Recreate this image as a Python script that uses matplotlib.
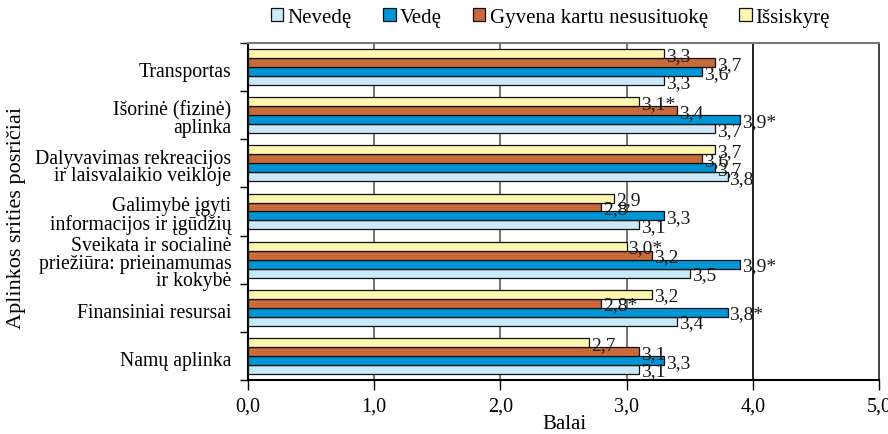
import matplotlib
matplotlib.use("Agg")
import matplotlib.pyplot as plt
from matplotlib.patches import Patch
import numpy as np

plt.rcParams['font.family'] = ['Liberation Serif', 'DejaVu Serif']

categories = [
    "Transportas",
    "Išorinė (fizinė)\naplinka",
    "Dalyvavimas rekreacijos\nir laisvalaikio veikloje",
    "Galimybė įgyti\ninformacijos ir įgūdžių",
    "Sveikata ir socialinė\npriežiūra: prieinamumas\nir kokybė",
    "Finansiniai resursai",
    "Namų aplinka",
]
series_names = ["Nevedę", "Vedę", "Gyvena kartu nesusituokę", "Išsiskyrę"]

nevede = [3.3, 3.7, 3.8, 3.1, 3.5, 3.4, 3.1]
vede = [3.6, 3.9, 3.7, 3.3, 3.9, 3.8, 3.3]
gyvena = [3.7, 3.4, 3.6, 2.8, 3.2, 2.8, 3.1]
issiskyre = [3.3, 3.1, 3.7, 2.9, 3.0, 3.2, 2.7]

# significance markers (*) per series and category
star_nevede = [False] * 7
star_vede = [False, True, False, False, True, True, False]
star_gyvena = [False, False, False, False, False, True, False]
star_issiskyre = [False, True, False, False, True, False, False]

x_ticks = [0, 1, 2, 3, 4, 5]
x_labels = ["0,0", "1,0", "2,0", "3,0", "4,0", "5,0"]

colors = ["#C8E9F8", "#0096D6", "#C96A3A", "#FFF6B0"]

fig = plt.figure(figsize=(8.88, 4.35), dpi=100)
ax = fig.add_axes([0.2793, 0.1241, 0.9899 - 0.2793, 0.8989 - 0.1241])

n = len(categories)
centers = np.arange(n)[::-1].astype(float)
h = 0.186

series = [nevede, vede, gyvena, issiskyre]
stars = [star_nevede, star_vede, star_gyvena, star_issiskyre]
offsets = [-1.5 * h, -0.5 * h, 0.5 * h, 1.5 * h]

for vals, st, col, off in zip(series, stars, colors, offsets):
    ys = centers + off
    ax.barh(ys, vals, height=h, color=col, edgecolor="#111111",
            linewidth=0.9, zorder=3)
    for y, v, s in zip(ys, vals, st):
        txt = f"{v:.1f}".replace(".", ",") + ("*" if s else "")
        ax.text(v + 0.015, y - 0.035, txt, ha="left", va="center",
                fontsize=14, color="#1a1a1a", zorder=4)

ax.set_xlim(0, 5)
ax.set_ylim(-0.5, n - 0.5)
ax.set_xticks(x_ticks)
ax.set_xticklabels(x_labels, fontsize=14.5)

# category boundaries carry the tick marks, labels sit at group centres
ax.set_yticks(np.arange(-0.5, n, 1.0))
ax.set_yticklabels([])
ax.set_yticks(centers - 0.04, minor=True)
ax.set_yticklabels(categories, minor=True, fontsize=14.2, linespacing=0.9,
                   ha="right")
ax.tick_params(axis="y", which="minor", length=0, pad=12)
ax.tick_params(axis="y", which="major", length=6, width=1.0, direction="out")
ax.tick_params(axis="x", length=7, width=1.0, direction="out", pad=5)

ax.grid(axis="x", color="#6a6a6a", linewidth=1.3, zorder=0)
ax.set_axisbelow(True)
for i, gl in enumerate(ax.xaxis.get_gridlines()):
    if x_ticks[i] == 4:
        gl.set_color("#111111")
    if x_ticks[i] in (0, 5):
        gl.set_visible(False)

ax.spines["top"].set_color("#7a7a7a")
ax.spines["top"].set_linewidth(1.5)
ax.spines["right"].set_color("#222222")
ax.spines["right"].set_linewidth(1.2)
ax.spines["bottom"].set_linewidth(1.5)
ax.spines["left"].set_linewidth(1.5)

fig.text(0.636, 0.024, "Balai", ha="center", va="center", fontsize=15)
fig.text(0.019, 0.5, "Aplinkos srities posričiai", rotation=90,
         ha="center", va="center", fontsize=16)

handles = [Patch(facecolor=c, edgecolor="#111111", linewidth=0.9) for c in colors]
fig.legend(handles, series_names, loc="center", bbox_to_anchor=(0.62, 0.957),
           ncol=4, frameon=False, fontsize=15, handlelength=0.6,
           handleheight=0.6, handletextpad=0.2, columnspacing=1.5,
           borderaxespad=0)

fig.savefig("out.png", dpi=100)
